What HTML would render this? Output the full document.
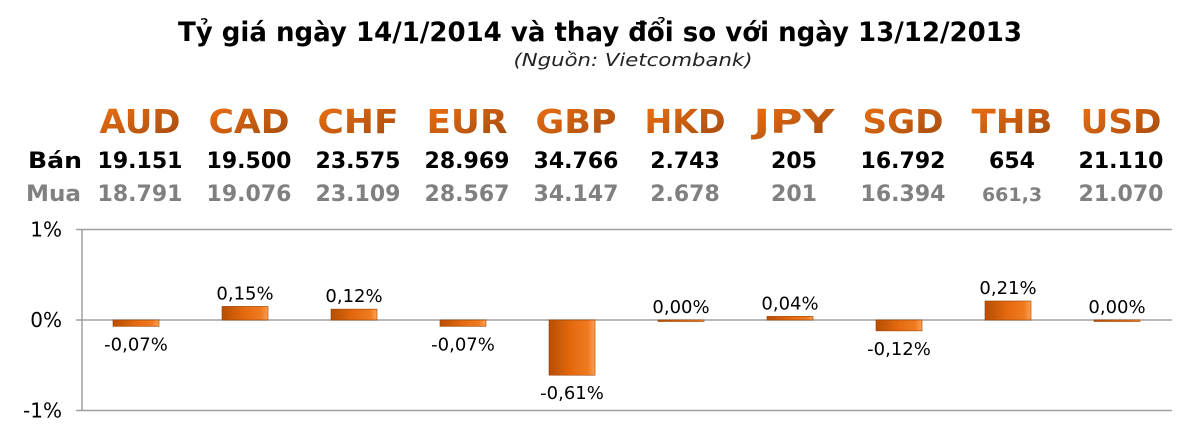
<!DOCTYPE html>
<html><head><meta charset="utf-8"><style>
html,body{margin:0;padding:0;background:#fff;}
svg{display:block;font-family:"DejaVu Sans","Liberation Sans",sans-serif;}
</style></head><body>
<svg id="chart" width="1200" height="441" viewBox="0 0 1200 441">
<defs>
<linearGradient id="barG" x1="0" y1="0" x2="1" y2="0">
<stop offset="0" stop-color="#b84e00"/><stop offset="0.5" stop-color="#e56a10"/><stop offset="0.85" stop-color="#f07a20"/><stop offset="1" stop-color="#ffa050"/>
</linearGradient>
<linearGradient id="curG" x1="0" y1="0" x2="1" y2="1">
<stop offset="0" stop-color="#f07010"/><stop offset="1" stop-color="#a04a10"/>
</linearGradient>
</defs>
<text x="600" y="41" text-anchor="middle" font-weight="bold" font-size="27" textLength="844" lengthAdjust="spacingAndGlyphs" fill="#000">Tỷ giá ngày 14/1/2014 và thay đổi so với ngày 13/12/2013</text>
<text x="633" y="66" text-anchor="middle" font-style="italic" font-size="18" textLength="239" lengthAdjust="spacingAndGlyphs" fill="#222">(Nguồn: Vietcombank)</text>
<text x="28" y="168" font-weight="bold" font-size="22" textLength="54" lengthAdjust="spacingAndGlyphs" fill="#000">Bán</text>
<text x="26" y="201" font-weight="bold" font-size="22" textLength="55" lengthAdjust="spacingAndGlyphs" fill="#808080">Mua</text>
<g id="axes"></g>
<g id="marks"></g>
</svg>
<script>
const currencies=["AUD","CAD","CHF","EUR","GBP","HKD","JPY","SGD","THB","USD"];
const sellRates=["19.151","19.500","23.575","28.969","34.766","2.743","205","16.792","654","21.110"];
const buyRates=["18.791","19.076","23.109","28.567","34.147","2.678","201","16.394","661,3","21.070"];
const changes=[-0.07,0.15,0.12,-0.07,-0.61,0.00,0.04,-0.12,0.21,0.00];
const changeLabels=["-0,07%","0,15%","0,12%","-0,07%","-0,61%","0,00%","0,04%","-0,12%","0,21%","0,00%"];
const yTicks=[1,0,-1];
const yTickLabels=["1%","0%","-1%"];

const NS="http://www.w3.org/2000/svg";
const plotL=82,plotR=1172,step=109,firstC=136;
function xC(i){return firstC+i*step;}
function yS(v){return 320-v*90.5;}
function mk(tag,attrs,parent,txt){const e=document.createElementNS(NS,tag);for(const k in attrs)e.setAttribute(k,attrs[k]);if(txt!==undefined)e.textContent=txt;parent.appendChild(e);return e;}
const axes=document.getElementById('axes'),marks=document.getElementById('marks');
let ax=mk('line',{x1:plotL,y1:yS(1),x2:plotL,y2:yS(-1),stroke:'#a0a0a0','stroke-width':1.5},axes);


yTicks.forEach((t,i)=>{
 const g=mk('line',{x1:plotL-6,y1:yS(t),x2:plotR,y2:yS(t),stroke:'#a0a0a0','stroke-width':1.5},axes);
 
 
 const l=mk('text',{x:62,y:yS(t)+7,'text-anchor':'end','font-size':20,fill:'#000'},axes,yTickLabels[i]);
 
 
});
currencies.forEach((c,i)=>{
 const x=xC(i);
 const t=mk('text',{x:x+4,y:133,'text-anchor':'middle','font-weight':'bold','font-size':33,fill:'url(#curG)',textLength:c.length*27,lengthAdjust:'spacingAndGlyphs'},marks,c);
 
 
 const s=mk('text',{x:x+4,y:168,'text-anchor':'middle','font-weight':'bold','font-size':22,fill:'#000'},marks,sellRates[i]);
 
 
 const isSmall=buyRates[i].indexOf(',')>=0;
 const b=mk('text',{x:x+4,y:201,'text-anchor':'middle','font-weight':'bold','font-size':isSmall?19:22,fill:'#808080'},marks,buyRates[i]);
 
 
 const v=changes[i];
 const y0=yS(0),y1=yS(v);
 const top=Math.min(y0,y1),h=Math.max(Math.abs(y1-y0),1.5);
 const r=mk('rect',{x:x-23,y:top,width:46,height:h,fill:'url(#barG)',stroke:'#9a4000','stroke-width':0.6},marks);
 
 
 const ly=v<0?top+h+24:top-7;
 const lab=mk('text',{x:x,y:ly,'text-anchor':'middle','font-size':18,fill:'#000'},marks,changeLabels[i]);
 
 
});
</script>
</body></html>
